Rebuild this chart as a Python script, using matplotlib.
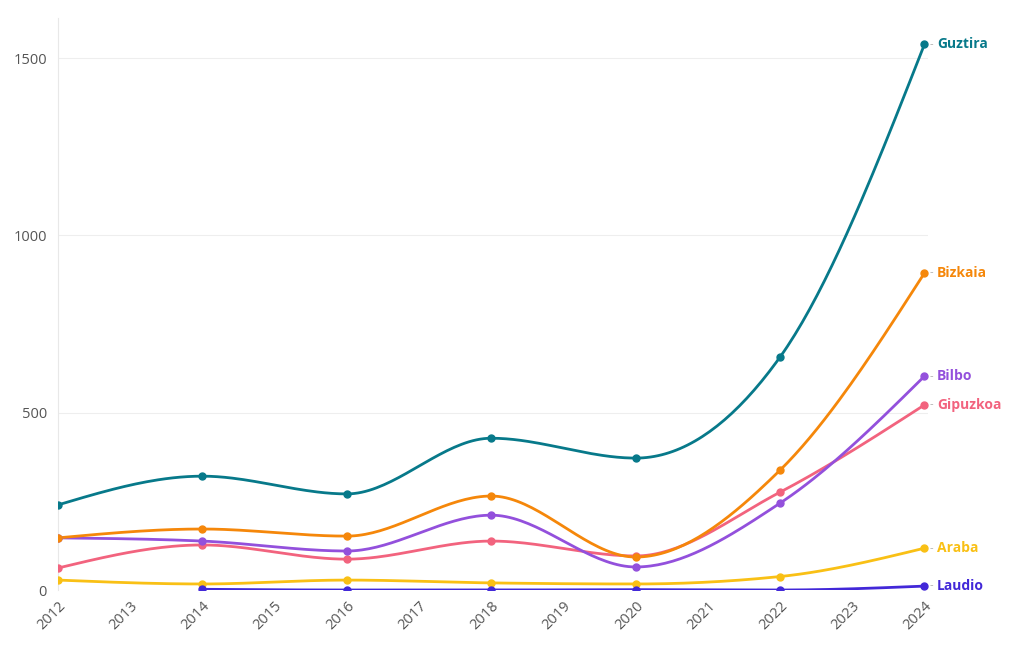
import numpy as np
import matplotlib
matplotlib.use("Agg")
import matplotlib.pyplot as plt

years = [2012, 2014, 2016, 2018, 2020, 2022, 2024]
laudio_years = [2014, 2016, 2018, 2020, 2022, 2024]

guztira = [240, 321, 271, 428, 372, 657, 1539]
bizkaia = [147, 172, 152, 265, 93, 338, 894]
bilbo = [147, 138, 110, 211, 65, 245, 603]
gipuzkoa = [62, 127, 87, 138, 96, 276, 522]
araba = [28, 17, 28, 20, 17, 38, 118]
laudio = [2, 0, 0, 1, 0, 11]

series = [
    ("Araba", years, araba, "#f9c015"),
    ("Gipuzkoa", years, gipuzkoa, "#f2637e"),
    ("Bilbo", years, bilbo, "#9350dc"),
    ("Bizkaia", years, bizkaia, "#f5870a"),
    ("Guztira", years, guztira, "#07798a"),
    ("Laudio", laudio_years, laudio, "#4228d8"),
]

xticks = list(range(2012, 2025))
yticks = [0, 500, 1000, 1500]


def monotone_x(x, y, n=40):
    # d3 curveMonotoneX style smoothing, only for drawing
    x = np.asarray(x, float)
    y = np.asarray(y, float)
    h = np.diff(x)
    s = np.diff(y) / h
    m = len(x)
    t = np.zeros(m)
    for i in range(1, m - 1):
        s0, s1 = s[i - 1], s[i]
        p = (s0 * h[i] + s1 * h[i - 1]) / (h[i - 1] + h[i])
        t[i] = (np.sign(s0) + np.sign(s1)) * min(abs(s0), abs(s1), 0.5 * abs(p))
    t[0] = (3 * s[0] - t[1]) / 2
    t[-1] = (3 * s[-1] - t[-2]) / 2
    xs, ys = [], []
    for i in range(m - 1):
        u = np.linspace(0, 1, n)
        h00 = 2 * u**3 - 3 * u**2 + 1
        h10 = u**3 - 2 * u**2 + u
        h01 = -2 * u**3 + 3 * u**2
        h11 = u**3 - u**2
        xs.append(x[i] + u * h[i])
        ys.append(h00 * y[i] + h10 * h[i] * t[i] + h01 * y[i + 1] + h11 * h[i] * t[i + 1])
    return np.concatenate(xs), np.concatenate(ys)


plt.rcParams['font.family'] = ['Open Sans', 'DejaVu Sans']

fig = plt.figure(figsize=(10.2, 6.5), dpi=100)
ax = fig.add_axes([0.0569, 0.0923, 0.853, 0.88])

for name, xs, ys, col in series:
    cx, cy = monotone_x(xs, ys)
    ax.plot(cx, cy, color=col, lw=2.0, solid_capstyle='round', zorder=3)
    ax.plot(xs, ys, 'o', color=col, ms=5, zorder=4)
    ax.annotate("-", xy=(xs[-1], ys[-1]), xytext=(4, 0), textcoords='offset points',
                va='center', ha='left', color='#aaaaaa', fontsize=8, annotation_clip=False)
    ax.annotate(name, xy=(xs[-1], ys[-1]), xytext=(9, 0), textcoords='offset points',
                va='center', ha='left', color=col, fontsize=10, fontweight='bold',
                annotation_clip=False)

ax.set_xlim(2012, 2024.05)
ax.set_ylim(0, 1613)
ax.set_xticks(xticks)
ax.set_xticklabels([str(v) for v in xticks], rotation=45, ha='right', rotation_mode='anchor')
ax.set_yticks(yticks)
ax.set_yticklabels([str(v) for v in yticks])
ax.tick_params(axis='both', colors='#555555', labelsize=10.5, length=0)
ax.tick_params(axis='x', pad=6)
ax.tick_params(axis='y', pad=8)
ax.grid(axis='y', color='#eeeeee', lw=0.8, zorder=0)
for sp in ['top', 'right', 'bottom']:
    ax.spines[sp].set_visible(False)
ax.spines['left'].set_color('#e8e8e8')
ax.spines['left'].set_linewidth(0.8)

fig.savefig("out.png", dpi=100)
